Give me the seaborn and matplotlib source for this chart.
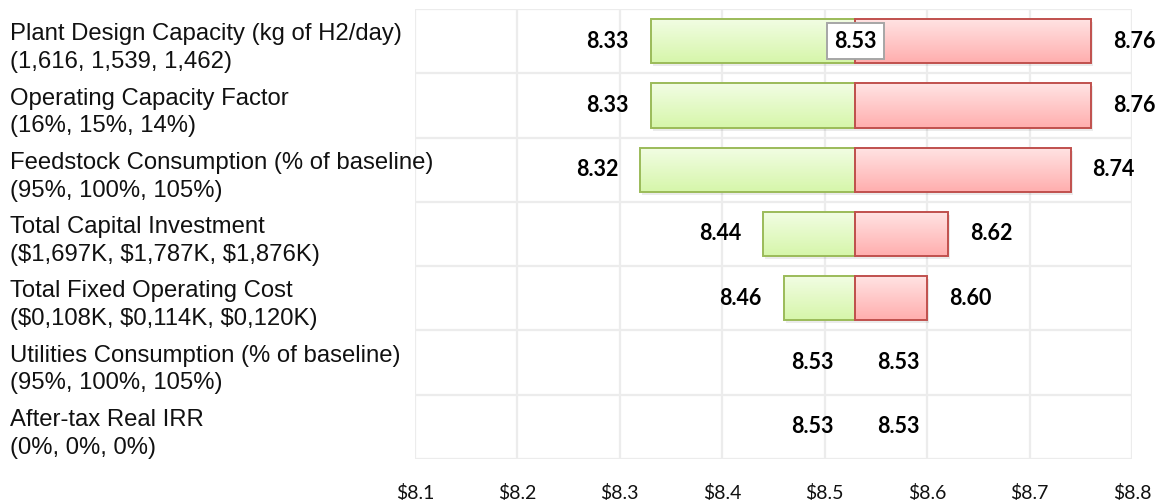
import numpy as np
import pandas as pd
import matplotlib
matplotlib.use("Agg")
import matplotlib.pyplot as plt
import matplotlib.transforms as mtransforms
from matplotlib.colors import LinearSegmentedColormap
from matplotlib.ticker import FixedLocator, FuncFormatter
import seaborn as sns

# Sensitivity inputs (low, base, high) and resulting H2 cost ($/kg)
parameters = [
    "Plant Design Capacity (kg of H2/day)",
    "Operating Capacity Factor",
    "Feedstock Consumption (% of baseline)",
    "Total Capital Investment",
    "Total Fixed Operating Cost",
    "Utilities Consumption (% of baseline)",
    "After-tax Real IRR",
]
ranges = [
    "(1,616, 1,539, 1,462)",
    "(16%, 15%, 14%)",
    "(95%, 100%, 105%)",
    "($1,697K, $1,787K, $1,876K)",
    "($0,108K, $0,114K, $0,120K)",
    "(95%, 100%, 105%)",
    "(0%, 0%, 0%)",
]
low_cost = [8.33, 8.33, 8.32, 8.44, 8.46, 8.53, 8.53]
high_cost = [8.76, 8.76, 8.74, 8.62, 8.60, 8.53, 8.53]
base_cost = 8.53
tick_values = [8.1, 8.2, 8.3, 8.4, 8.5, 8.6, 8.7, 8.8]

sns.set_theme(style="white")
plt.rcParams["font.family"] = ["Lato", "DejaVu Sans"]

df = pd.DataFrame({
    "row": [f"r{i}" for i in range(len(parameters))],
    "low": np.array(low_cost) - base_cost,
    "high": np.array(high_cost) - base_cost,
})

fig = plt.figure(figsize=(11.57, 5.0), dpi=100)
ax = fig.add_axes([415 / 1157, 41 / 500, 717 / 1157, 450 / 500])

bar_h = 0.69
sns.barplot(data=df, x="low", y="row", orient="h", ax=ax, width=bar_h,
            color="#e4f9c6", edgecolor="#9bbb59", linewidth=1.4,
            saturation=1, zorder=3)
n_low = len(ax.patches)
sns.barplot(data=df, x="high", y="row", orient="h", ax=ax, width=bar_h,
            color="#ffc8c8", edgecolor="#c0504d", linewidth=1.4,
            saturation=1, zorder=3)

# vertical gradient fill inside each bar
green_cmap = LinearSegmentedColormap.from_list("g", ["#f2fde4", "#d6f6aa"])
red_cmap = LinearSegmentedColormap.from_list("r", ["#ffe4e4", "#ffaeae"])
grad = np.linspace(0, 1, 64).reshape(-1, 1)
for i, p in enumerate(list(ax.patches)):
    w = p.get_width()
    if abs(w) < 1e-9:
        p.set_visible(False)
        continue
    x0, y0 = p.get_x(), p.get_y()
    h = p.get_height()
    cmap = green_cmap if i < n_low else red_cmap
    im = ax.imshow(grad, cmap=cmap, aspect="auto", zorder=2.9,
                   extent=[min(x0, x0 + w), max(x0, x0 + w), y0 + h, y0],
                   interpolation="bilinear")
    im.set_clip_path(p)
    p.set_facecolor("none")
    # soft drop shadow
    shadow = plt.Rectangle((x0, y0), w, h, facecolor="#000000", alpha=0.08,
                           edgecolor="none", zorder=2.5,
                           transform=ax.transData + mtransforms.ScaledTranslation(
                               2 / 100, -3 / 100, fig.dpi_scale_trans))
    ax.add_patch(shadow)

xmin, xmax = tick_values[0] - base_cost, tick_values[-1] - base_cost
ax.set_xlim(xmin, xmax)
ax.set_ylim(len(parameters) - 0.5, -0.5)

# light grid, including the row dividers
ax.xaxis.set_major_locator(FixedLocator([t - base_cost for t in tick_values]))
ax.xaxis.set_major_formatter(FuncFormatter(lambda v, _: f"${v + base_cost:.1f}"))
ax.set_yticks([])
ax.set_xlabel("")
ax.set_ylabel("")
for t in tick_values:
    ax.axvline(t - base_cost, color="#ececec", lw=1.6, zorder=0)
for k in range(len(parameters) + 1):
    ax.axhline(k - 0.5, color="#ececec", lw=1.6, zorder=0)
for s in ax.spines.values():
    s.set_visible(False)
ax.tick_params(axis="x", length=0, pad=18, labelsize=14, colors="#111111")
ax.set_xlim(xmin, xmax)

# value labels
off = 22 / 100
left_tr = ax.transData + mtransforms.ScaledTranslation(-off, 0, fig.dpi_scale_trans)
right_tr = ax.transData + mtransforms.ScaledTranslation(off, 0, fig.dpi_scale_trans)
for i in range(len(parameters)):
    lo = low_cost[i] - base_cost
    hi = high_cost[i] - base_cost
    ax.text(lo, i, f"{low_cost[i]:.2f}", ha="right", va="center",
            fontsize=15.5, fontweight="bold", color="#000000", transform=left_tr, zorder=5)
    ax.text(hi, i, f"{high_cost[i]:.2f}", ha="left", va="center",
            fontsize=15.5, fontweight="bold", color="#000000", transform=right_tr, zorder=5)

# base-case value
ax.text(0, 0, f"{base_cost:.2f}", ha="center", va="center", fontsize=15.5,
        fontweight="bold", color="#000000", zorder=6,
        bbox=dict(boxstyle="square,pad=0.35", facecolor="white",
                  edgecolor="#a6a6a6", linewidth=1.4))

# parameter names with their range on a second line
lab_tr = mtransforms.blended_transform_factory(fig.transFigure, ax.transData) + \
    mtransforms.ScaledTranslation(0, -7 / 100, fig.dpi_scale_trans)
for i, (name, rng) in enumerate(zip(parameters, ranges)):
    ax.text(10 / 1157, i, f"{name}\n{rng}", ha="left", va="center",
            fontsize=17.2, family=["Liberation Sans", "DejaVu Sans"],
            color="#111111", linespacing=1.33, transform=lab_tr, clip_on=False)

fig.savefig("out.png", dpi=100, facecolor="white")
